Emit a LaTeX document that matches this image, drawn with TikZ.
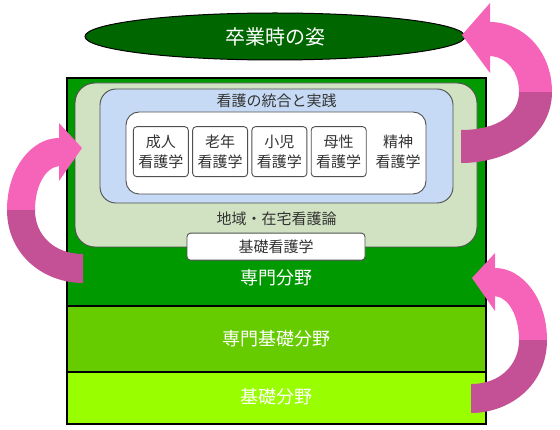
\documentclass[tikz,border=0pt]{standalone}
\usepackage{fontspec}
\setmainfont{Noto Sans CJK JP}
\usepackage{xcolor}
\usepackage{tikz}
\usetikzlibrary{positioning,shapes.geometric}
\definecolor{goal}{HTML}{006600}
\definecolor{senmon}{HTML}{009900}
\definecolor{senkiso}{HTML}{66CC00}
\definecolor{kiso}{HTML}{99FF00}
\definecolor{sage}{HTML}{D0E2C2}
\definecolor{sky}{HTML}{C6DAF5}
\definecolor{edge}{HTML}{505050}
\definecolor{ink}{HTML}{333333}
\definecolor{pinkup}{HTML}{F564B8}
\definecolor{pinkdn}{HTML}{C45196}
\tikzset{
  field/.style={draw=black, line width=1.6pt},
  fieldtxt/.style={text=white, font=\fontsize{18}{20}\selectfont},
  panel/.style={draw=edge, line width=0.9pt},
  paneltxt/.style={text=ink, font=\fontsize{15}{18}\selectfont},
  subj/.style={draw=edge, fill=white, line width=0.9pt, rounded corners=3.5pt,
    minimum width=55pt, minimum height=50pt, inner sep=1pt, align=center,
    text=ink, font=\fontsize{15}{20}\selectfont},
  up/.style={fill=pinkup},
  dn/.style={fill=pinkdn}
}
% curved arrow, tip at (472,278)
\newcommand\pinkarrow{%
  \fill[dn] (547,340) .. controls (547,385) and (510,413) .. (471,413)
    -- (471,384) .. controls (500,384) and (519,365) .. (519,340) -- cycle;
  \fill[up] (547,340) .. controls (547,298) and (522,268) .. (495,268)
    -- (495,253) -- (472,278) -- (495,311) -- (495,296)
    .. controls (510,298) and (519,318) .. (519,340) -- cycle;
}

\begin{document}
\begin{tikzpicture}[x=1pt, y=-1pt]
  \useasboundingbox (0,0) rectangle (560,430);

  % three fields
  \draw[field, fill=senmon] (67,78) rectangle (486,306);
  \draw[field, fill=senkiso] (67,306) rectangle (486,372);
  \draw[field, fill=kiso] (67,372) rectangle (486,424);

  % nested panels
  \draw[panel, fill=sage, rounded corners=20pt] (75,83) rectangle (477,247);
  \draw[panel, fill=sky, rounded corners=16pt] (100,89) rectangle (453,203);
  \draw[panel, fill=white, rounded corners=13pt] (126,112) rectangle (426,194);

  \node[paneltxt] (togo) at (276.5,100.5) {看護の統合と実践};
  \node[paneltxt] (chiiki) at (276.5,218.5) {地域・在宅看護論};
  \node[subj, minimum width=178pt, minimum height=27pt] (kisokango) at (276,246.7) {基礎看護学};

  \node[subj] (seijin) at (160.8,151.7) {成人\\看護学};
  \node[subj, right=3.4pt of seijin] (rounen) {老年\\看護学};
  \node[subj, right=3.4pt of rounen] (shoni) {小児\\看護学};
  \node[subj, right=3.4pt of shoni] (bosei) {母性\\看護学};
  \node[subj, draw=none, fill=none, right=3.4pt of bosei] (seishin) {精神\\看護学};

  \node[fieldtxt] (lab1) at (276.5,278) {専門分野};
  \node[fieldtxt] (lab2) at (276.5,338.5) {専門基礎分野};
  \node[fieldtxt] (lab3) at (276.5,396.5) {基礎分野};

  % goal
  \node[ellipse, draw=black, line width=1pt, fill=goal, minimum width=380pt,
    minimum height=47pt, text=white, font=\fontsize{20}{22}\selectfont]
    (sotsugyo) at (275,36.5) {卒業時の姿};

  % arrows
  \pinkarrow
  \begin{scope}[shift={(554,-130)}, xscale=-1]
    \pinkarrow
  \end{scope}
  \fill[dn] (552,92) .. controls (552,135) and (510,163) .. (461,163)
    -- (461,130) .. controls (497,130) and (519,115) .. (519,92) -- cycle;
  \fill[up] (552,92) .. controls (552,50) and (522,22) .. (490,22)
    -- (490,3) -- (462,35) -- (490,73) -- (490,56)
    .. controls (507,57) and (519,72) .. (519,92) -- cycle;
\end{tikzpicture}
\end{document}
